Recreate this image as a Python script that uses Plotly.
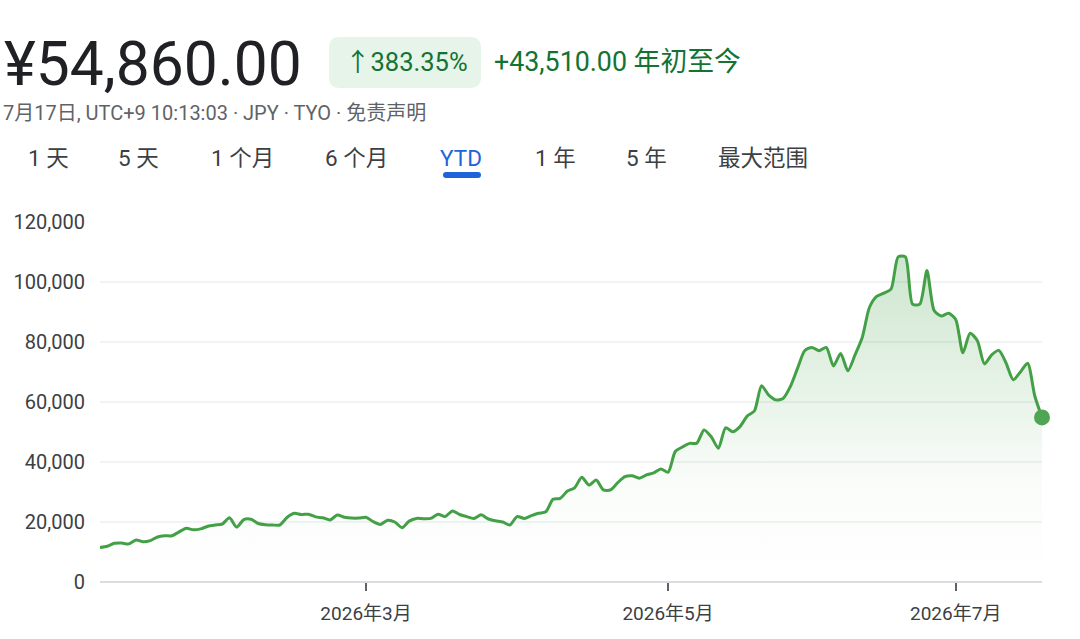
import plotly.graph_objects as go

# ---- data (trading-day index 0 = first session of 2026) ----
prices = [
    11500, 11900, 12900, 13000, 12700, 14000, 13400, 13800, 15000, 15400,
    15400, 16700, 17900, 17400, 17700, 18600, 19000, 19300, 21400, 18300,
    20800, 20900, 19500, 19100, 19000, 19000, 21500, 22900, 22500, 22600,
    21700, 21400, 20700, 22300, 21600, 21300, 21300, 21600, 20100, 19200,
    20600, 20000, 18100, 20300, 21200, 21100, 21200, 22600, 21800, 23700,
    22500, 21800, 21200, 22400, 21000, 20400, 20000, 19000, 21800, 21200,
    22100, 22900, 23400, 27600, 27900, 30300, 31400, 34900, 32300, 34000,
    30700, 30700, 33100, 35100, 35400, 34600, 35700, 36400, 37700, 36600,
    43500, 45000, 46200, 46300, 50700, 48400, 44600, 51400, 50100, 51800,
    55300, 57000, 65400, 62300, 60700, 61200, 65100, 71200, 77100, 78200,
    77100, 78200, 72000, 76200, 70400, 75700, 81500, 91500, 95200, 96300,
    97600, 108400, 108400, 92600, 92600, 103800, 90500, 88700, 89600, 87500,
    76400, 82900, 80500, 72700, 75700, 77200, 73000, 67400, 70000, 72900,
    62000, 54860,
]
day_index = list(range(len(prices)))

tick_positions = [37, 79, 119]
tick_labels = ["2026年3月", "2026年5月", "2026年7月"]
y_ticks = [0, 20000, 40000, 60000, 80000, 100000, 120000]

price_text = "¥54,860.00"
change_pct_text = "↑383.35%"
change_abs_text = "+43,510.00 年初至今"
subtitle_text = "7月17日, UTC+9 10:13:03 · JPY · TYO · 免责声明"
tabs = ["1 天", "5 天", "1 个月", "6 个月", "YTD", "1 年", "5 年", "最大范围"]
tab_x = [28, 118, 211, 325, 440, 535, 626, 718]
active_tab = "YTD"

# ---- style ----
FONT = "Roboto, 'Noto Sans CJK SC', sans-serif"
GREEN_LINE = "#43a047"
GREEN_TEXT = "#137333"
BLUE = "#1f63d8"

L, R, T, B = 100, 1042, 222, 582
W, H = R - L, B - T


def px(x):
    return (x - L) / W


def py(y):
    return (B - y) / H


def P(x, y):
    return f"{px(x):.5f},{py(y):.5f}"


def rounded_rect(x0, y0, x1, y1, r):
    return (f"M {P(x0 + r, y0)} L {P(x1 - r, y0)} Q {P(x1, y0)} {P(x1, y0 + r)} "
            f"L {P(x1, y1 - r)} Q {P(x1, y1)} {P(x1 - r, y1)} "
            f"L {P(x0 + r, y1)} Q {P(x0, y1)} {P(x0, y1 - r)} "
            f"L {P(x0, y0 + r)} Q {P(x0, y0)} {P(x0 + r, y0)} Z")


fig = go.Figure()
fig.add_trace(go.Scatter(
    x=day_index, y=prices, mode="lines",
    line=dict(color=GREEN_LINE, width=3, shape="spline", smoothing=0.7),
    fill="tozeroy",
    fillgradient=dict(
        type="vertical",
        colorscale=[[0, "rgba(67,160,71,0.0)"], [0.3, "rgba(67,160,71,0.03)"],
                    [1, "rgba(67,160,71,0.27)"]],
        start=0, stop=110000,
    ),
    hoverinfo="skip", showlegend=False,
))
fig.add_trace(go.Scatter(
    x=[day_index[-1]], y=[prices[-1]], mode="markers",
    marker=dict(color="#4fa553", size=16),
    cliponaxis=False, hoverinfo="skip", showlegend=False,
))

ann = []
ann.append(dict(text=price_text, x=px(2), y=py(64), xanchor="left", yanchor="middle",
                font=dict(family=FONT, size=60.5, color="#202124")))
ann.append(dict(text=change_pct_text, x=px(406), y=py(62), xanchor="center", yanchor="middle",
                font=dict(family=FONT, size=25.5, color=GREEN_TEXT)))
ann.append(dict(text=change_abs_text, x=px(492), y=py(62), xanchor="left", yanchor="middle",
                font=dict(family=FONT, size=26.8, color=GREEN_TEXT)))
ann.append(dict(text=subtitle_text, x=px(1), y=py(113), xanchor="left", yanchor="middle",
                font=dict(family=FONT, size=20, color="#5f6368")))
for t, xx in zip(tabs, tab_x):
    ann.append(dict(text=t, x=px(xx - 2), y=py(158), xanchor="left", yanchor="middle",
                    font=dict(family=FONT, size=22.5,
                              color=BLUE if t == active_tab else "#3c4043")))
for a in ann:
    a.update(xref="paper", yref="paper", showarrow=False)

shapes = [
    dict(type="path", path=rounded_rect(329, 37, 481, 88, 11), xref="paper", yref="paper",
         fillcolor="#e6f4ea", line=dict(width=0), layer="below"),
    dict(type="path", path=rounded_rect(443, 172, 481, 178, 3), xref="paper", yref="paper",
         fillcolor=BLUE, line=dict(width=0)),
]

fig.update_layout(
    width=1080, height=639,
    margin=dict(l=L, r=1080 - R, t=T, b=639 - B),
    paper_bgcolor="white", plot_bgcolor="white",
    font=dict(family=FONT, color="#3c4043"),
    annotations=ann, shapes=shapes,
    xaxis=dict(range=[0, len(prices) - 1], showgrid=False, zeroline=False,
               showline=False, tickmode="array", tickvals=tick_positions,
               ticktext=tick_labels, ticks="outside", ticklen=8, tickwidth=2,
               tickcolor="#5f6368", tickfont=dict(size=19, color="#3c4043"),
               ticklabelstandoff=6, fixedrange=True),
    yaxis=dict(range=[0, 120000], tickmode="array", tickvals=y_ticks,
               tickformat=",", showgrid=True, gridcolor="#f1f3f4", gridwidth=1.5,
               zeroline=True, zerolinecolor="#dadce0", zerolinewidth=2,
               showline=False, ticks="", tickfont=dict(size=20, color="#3c4043"),
               ticklabelstandoff=14, fixedrange=True),
)

fig.write_html("out.html")
